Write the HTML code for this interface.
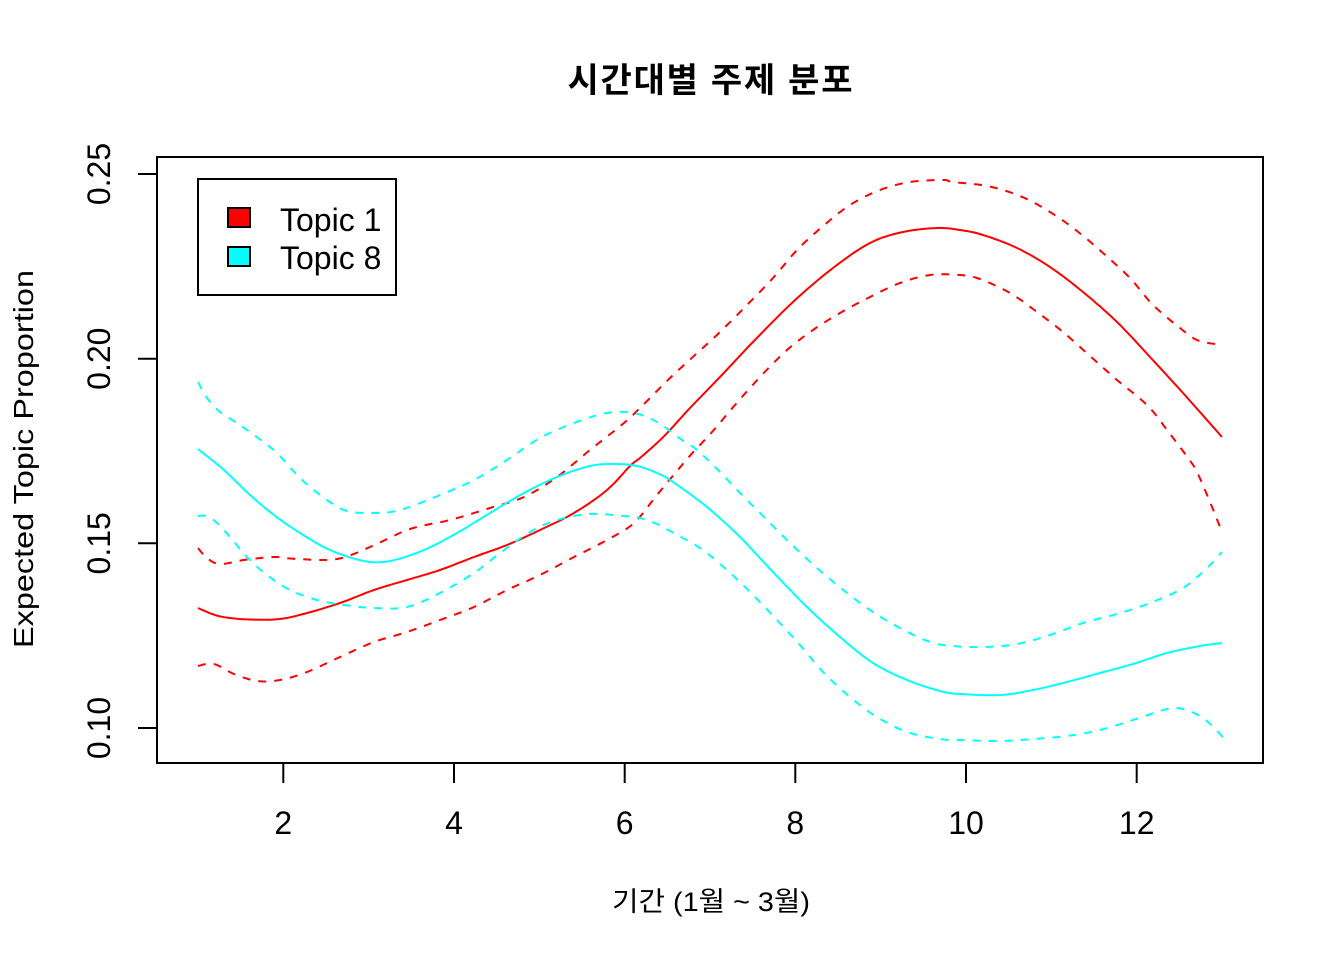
<!DOCTYPE html>
<html>
<head>
<meta charset="utf-8">
<style>
html,body{margin:0;padding:0;background:#fff;}
svg{display:block;}
text{font-family:"Liberation Sans","Noto Sans CJK KR",sans-serif;fill:#000;}
</style>
</head>
<body>
<svg width="1344" height="960" viewBox="0 0 1344 960" xmlns="http://www.w3.org/2000/svg">
<rect x="0" y="0" width="1344" height="960" fill="#fff"/>

<!-- Title -->
<text x="710" y="92" text-anchor="middle" font-size="34" font-weight="bold" textLength="285" lengthAdjust="spacing">시간대별 주제 분포</text>

<!-- Curves -->
<g fill="none" stroke-width="2" stroke-linejoin="round" stroke-linecap="butt">
<polyline class="cv" stroke="#ff0000" points="198,608 215,615 230,618 250,619.5 280,619 307,613 340,603 374,590 407,580 440,570 474,557 507,545 540,530 574,513 607,490 630,466 640,458 657,443 670,430 690,408 720,377 753,342 793,302 833,268 870,243 903,232 937,228 960,230 983,235 1017,248 1050,267 1083,292 1117,322 1150,357 1183,393 1222,437"/>
<polyline class="cv" stroke="#ff0000" stroke-dasharray="8,8" points="198,548 207,558 220,564 244,560 274,557 297,559 337,559 370,547 410,529 450,520 490,508 524,497 557,477 590,450 624,423 643,405 670,378 695,355 720,332 747,305 773,278 797,250 822,227 850,205 880,190 910,182 943,180 953,182 987,186 1020,196 1050,212 1077,231 1103,253 1130,278 1153,305 1180,328 1197,340 1215,344 1222,344"/>
<polyline class="cv" stroke="#ff0000" stroke-dasharray="8,8" points="198,666 207,664 217,665 234,674 257,681 280,680 307,672 340,657 374,642 407,632 440,620 474,607 507,590 540,575 574,557 607,540 634,523 657,495 688,458 712,432 735,405 760,377 787,350 813,330 840,313 870,297 900,283 930,275 960,275 980,279 1010,293 1037,312 1063,332 1090,356 1117,380 1147,405 1167,430 1188,458 1197,472 1210,502 1222,532"/>
<polyline class="cv" stroke="#00ffff" points="198,449 224,470 250,495 274,515 300,533 330,550 364,561 390,561 424,550 457,533 490,513 524,493 557,477 590,466 614,464 637,466 657,473 673,482 707,507 740,537 773,572 807,607 840,637 873,663 907,680 940,691 960,694 1000,695 1033,690 1067,682 1100,673 1133,664 1167,653 1200,646 1222,643"/>
<polyline class="cv" stroke="#00ffff" stroke-dasharray="8,8" points="198,382 207,398 220,412 237,423 254,435 277,453 300,478 327,500 347,511 374,513 400,510 440,495 474,480 507,460 540,438 574,423 607,413 634,413 657,422 682,440 697,450 720,472 740,493 767,520 790,543 817,568 847,593 873,612 900,628 930,642 953,646 983,647 1017,644 1050,635 1083,623 1117,614 1150,603 1183,588 1207,568 1222,552"/>
<polyline class="cv" stroke="#00ffff" stroke-dasharray="8,8" points="198,516 207,516 217,523 230,537 247,557 267,575 290,590 317,600 344,605 374,608 407,607 440,593 474,573 500,553 530,532 557,520 590,514 624,516 640,518 657,524 670,531 700,548 727,570 753,595 777,620 800,645 823,672 850,697 877,717 907,732 940,739 960,740 1000,741 1033,739 1067,736 1100,730 1133,720 1167,709 1183,709 1203,718 1220,734 1222,737"/>
</g>

<!-- Plot box -->
<rect x="157" y="157" width="1106" height="606" fill="none" stroke="#000" stroke-width="2"/>

<!-- Ticks -->
<g stroke="#000" stroke-width="2">
<line x1="283.3" y1="763" x2="283.3" y2="783"/>
<line x1="454" y1="763" x2="454" y2="783"/>
<line x1="624.7" y1="763" x2="624.7" y2="783"/>
<line x1="795.3" y1="763" x2="795.3" y2="783"/>
<line x1="966" y1="763" x2="966" y2="783"/>
<line x1="1136.7" y1="763" x2="1136.7" y2="783"/>
<line x1="138" y1="174" x2="157" y2="174"/>
<line x1="138" y1="358.7" x2="157" y2="358.7"/>
<line x1="138" y1="543.3" x2="157" y2="543.3"/>
<line x1="138" y1="728" x2="157" y2="728"/>
</g>

<!-- X tick labels -->
<g font-size="32" text-anchor="middle">
<text x="283.3" y="834">2</text>
<text x="454" y="834">4</text>
<text x="624.7" y="834">6</text>
<text x="795.3" y="834">8</text>
<text x="966" y="834">10</text>
<text x="1136.7" y="834">12</text>
</g>

<!-- Y tick labels -->
<g font-size="32" text-anchor="middle">
<text transform="translate(110,174) rotate(-90)">0.25</text>
<text transform="translate(110,358.7) rotate(-90)">0.20</text>
<text transform="translate(110,543.3) rotate(-90)">0.15</text>
<text transform="translate(110,728) rotate(-90)">0.10</text>
</g>

<!-- Axis labels -->
<text x="711" y="911" text-anchor="middle" font-size="27" textLength="198" lengthAdjust="spacingAndGlyphs">기간 (1월 ~ 3월)</text>
<text transform="translate(33,459) rotate(-90)" text-anchor="middle" font-size="28" textLength="378" lengthAdjust="spacingAndGlyphs">Expected Topic Proportion</text>

<!-- Legend -->
<rect x="198" y="179" width="198" height="116" fill="#fff" stroke="#000" stroke-width="2"/>
<rect x="228" y="208" width="22" height="19" fill="#ff0000" stroke="#000" stroke-width="2"/>
<rect x="228" y="247" width="22" height="19" fill="#00ffff" stroke="#000" stroke-width="2"/>
<text x="280" y="231" font-size="32">Topic 1</text>
<text x="280" y="269" font-size="32">Topic 8</text>
</svg>
<script>
(function(){
  var els=document.querySelectorAll('polyline.cv');
  for(var k=0;k<els.length;k++){
    var el=els[k];
    var raw=el.getAttribute('points').trim().split(/\s+/).map(function(s){var a=s.split(',');return [parseFloat(a[0]),parseFloat(a[1])];});
    var out=[];
    for(var i=0;i<raw.length-1;i++){
      var p0=raw[Math.max(i-1,0)],p1=raw[i],p2=raw[i+1],p3=raw[Math.min(i+2,raw.length-1)];
      var n=8;
      for(var j=0;j<n;j++){
        var t=j/n,t2=t*t,t3=t2*t;
        var x=0.5*((2*p1[0])+(-p0[0]+p2[0])*t+(2*p0[0]-5*p1[0]+4*p2[0]-p3[0])*t2+(-p0[0]+3*p1[0]-3*p2[0]+p3[0])*t3);
        var y=0.5*((2*p1[1])+(-p0[1]+p2[1])*t+(2*p0[1]-5*p1[1]+4*p2[1]-p3[1])*t2+(-p0[1]+3*p1[1]-3*p2[1]+p3[1])*t3);
        out.push(x.toFixed(1)+','+y.toFixed(1));
      }
    }
    var last=raw[raw.length-1];
    out.push(last[0]+','+last[1]);
    el.setAttribute('points',out.join(' '));
  }
})();
</script>
</body>
</html>
